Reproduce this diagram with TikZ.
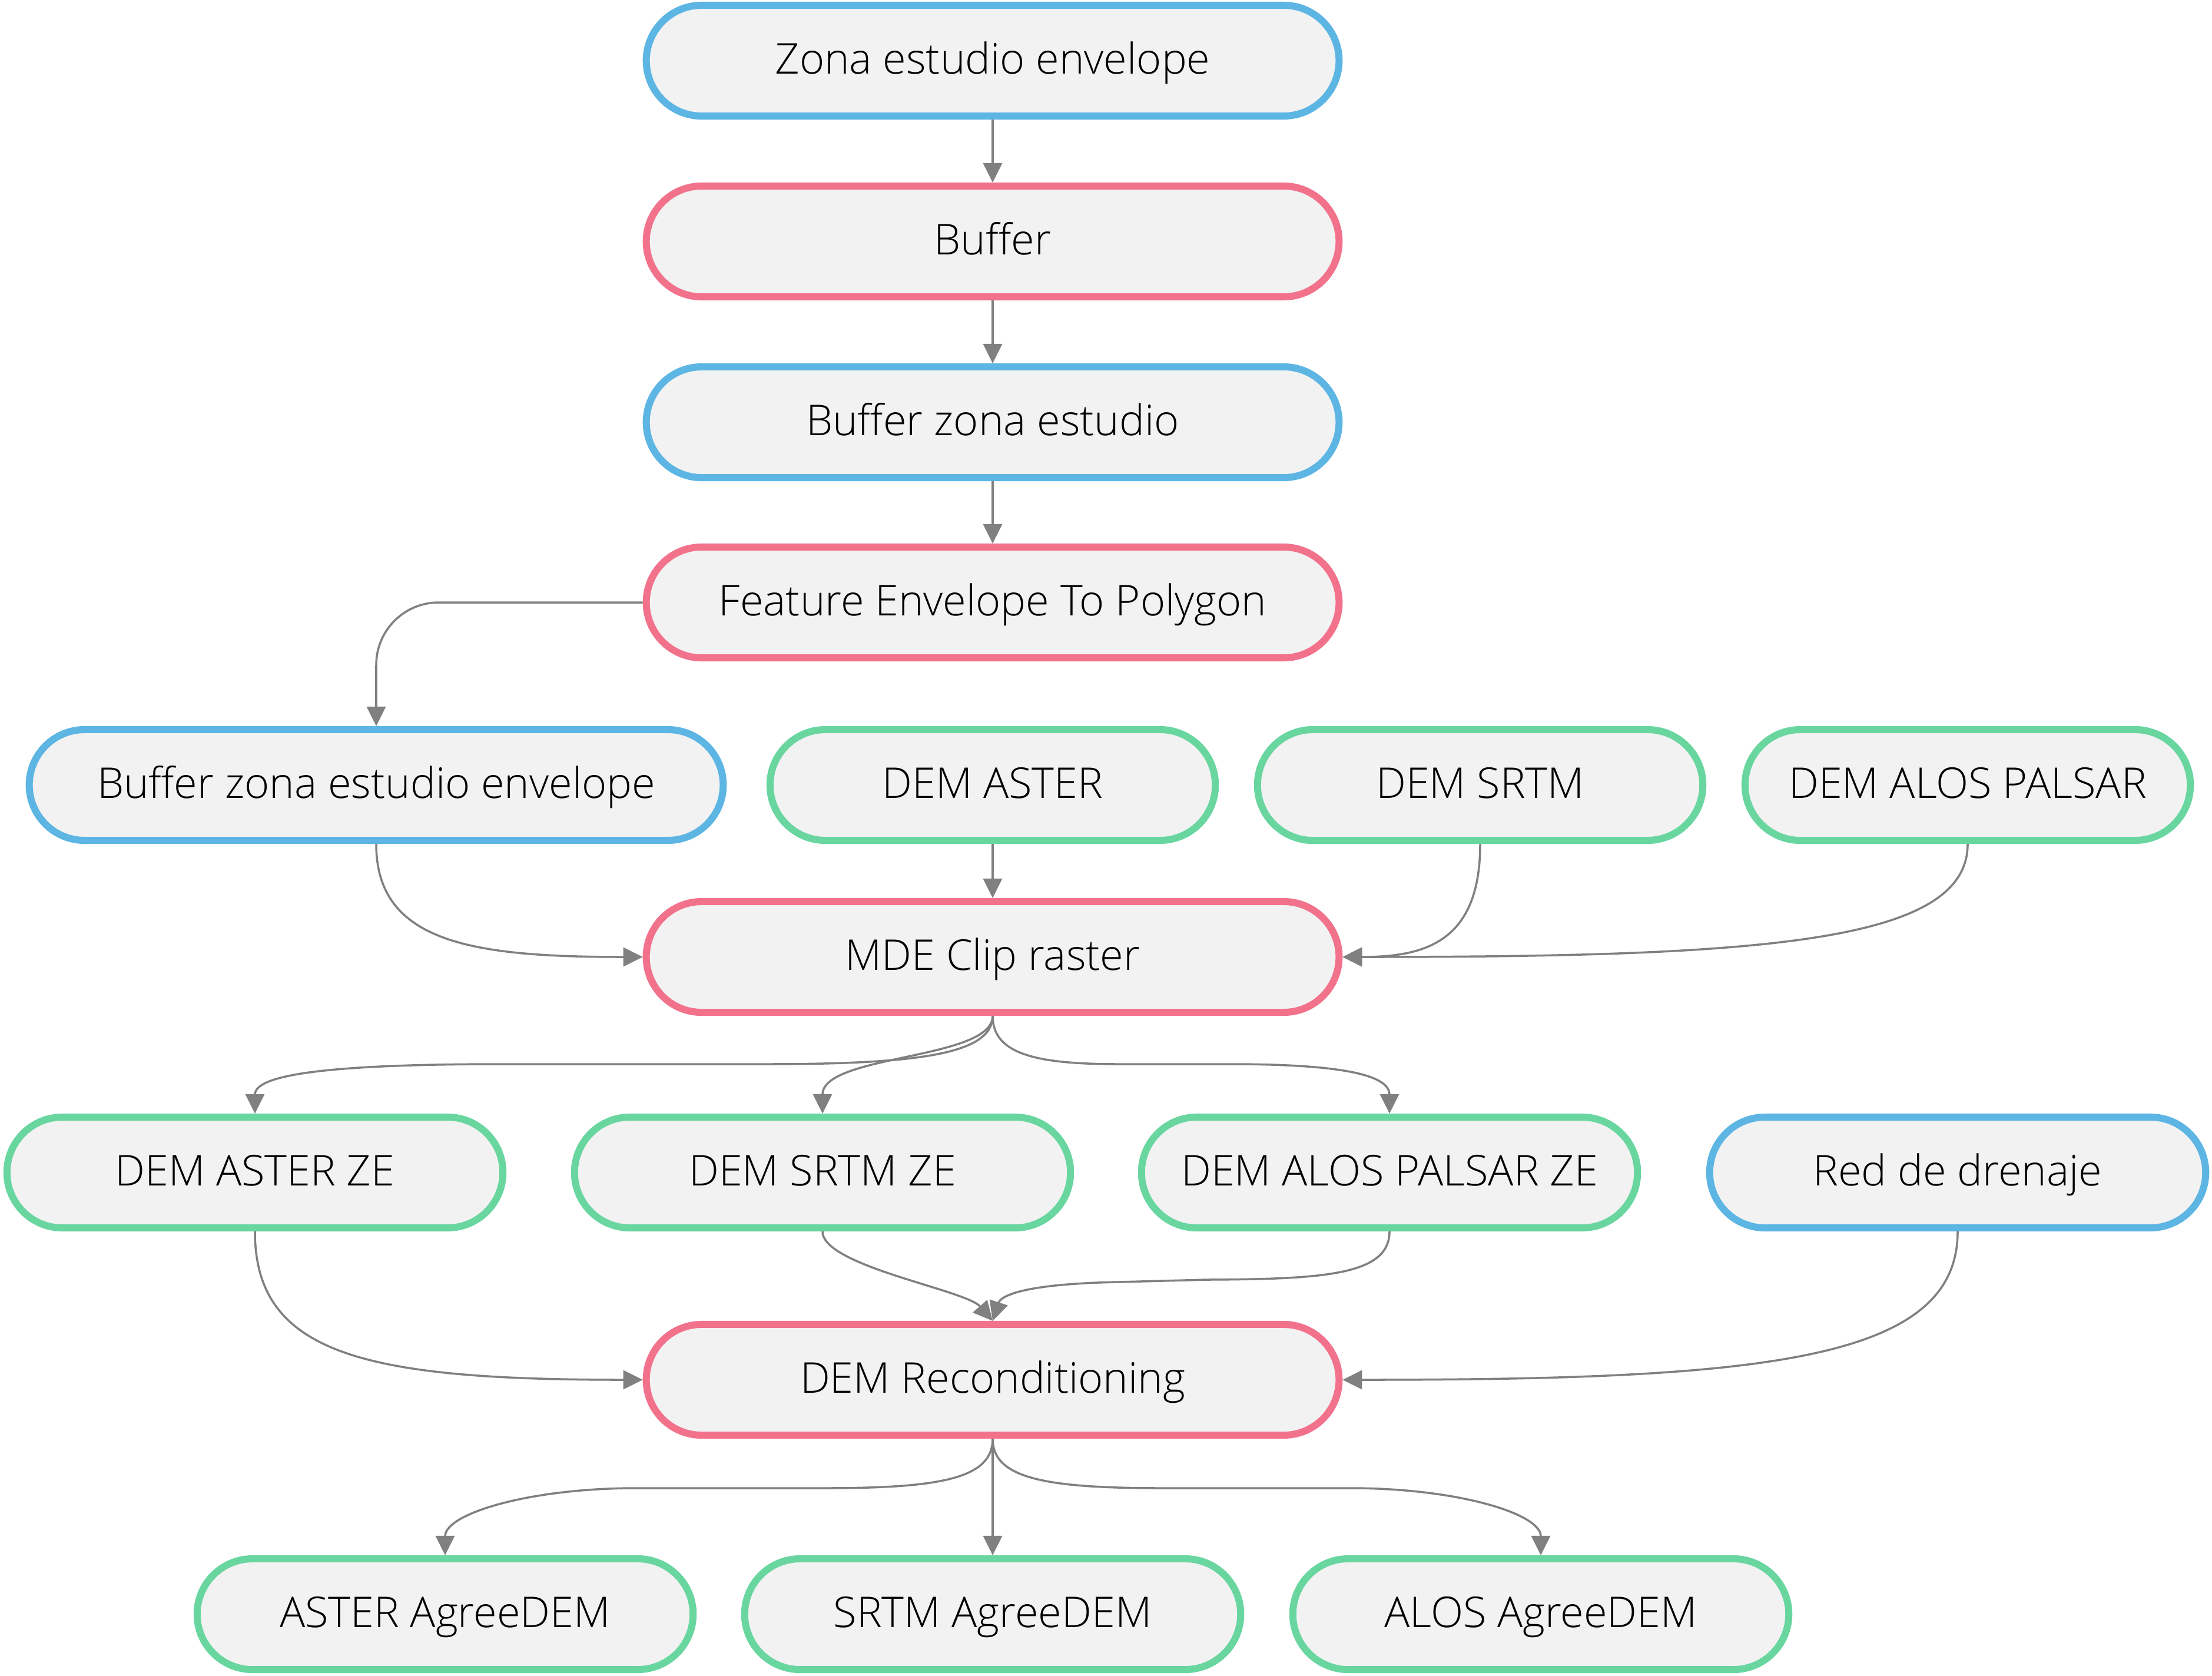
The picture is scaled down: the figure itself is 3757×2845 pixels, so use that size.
\documentclass[tikz,border=0pt]{standalone}
\usepackage{fontspec}
\setmainfont{Open Sans Light}
\usetikzlibrary{arrows.meta}
\definecolor{cblue}{HTML}{5DB5E3}
\definecolor{cpink}{HTML}{F2728C}
\definecolor{cgreen}{HTML}{69D6A0}
\definecolor{cfill}{HTML}{F2F2F2}
\definecolor{cline}{HTML}{808080}
\begin{document}
\begin{tikzpicture}[x=0.01cm,y=-0.01cm,
  pill/.style={draw=#1, line width=0.12cm, fill=cfill, rounded corners=0.94cm,
    minimum height=1.88cm, inner sep=0pt, text height=0.455cm, text depth=0pt,
    font=\fontsize{20.5}{24}\selectfont, text=black},
  wbig/.style={minimum width=11.76cm},
  wmid/.style={minimum width=7.56cm},
  wze/.style={minimum width=8.42cm},
  conn/.style={draw=cline, line width=1pt, -{Triangle[length=0.33cm,width=0.32cm]}},
]
\useasboundingbox (0,0) rectangle (3757,2845);

\node[pill=cblue, wbig] (zona) at (1686,103) {Zona estudio envelope};
\node[pill=cpink, wbig] (buf) at (1686,410) {Buffer};
\node[pill=cblue, wbig] (bze) at (1686,717) {Buffer zona estudio};
\node[pill=cpink, wbig] (feat) at (1686,1023) {Feature Envelope To Polygon};

\node[pill=cblue, minimum width=11.78cm] (bzee) at (639,1333) {Buffer zona estudio envelope};
\node[pill=cgreen, wmid] (aster) at (1686,1333) {DEM ASTER};
\node[pill=cgreen, wmid] (srtm) at (2514,1333) {DEM SRTM};
\node[pill=cgreen, wmid] (alos) at (3342,1333) {DEM ALOS PALSAR};

\node[pill=cpink, wbig] (mde) at (1686,1625) {MDE Clip raster};

\node[pill=cgreen, wze] (asterze) at (433,1991) {DEM ASTER ZE};
\node[pill=cgreen, wze] (srtmze) at (1397,1991) {DEM SRTM ZE};
\node[pill=cgreen, wze] (alosze) at (2360,1991) {DEM ALOS PALSAR ZE};
\node[pill=cblue, wze] (red) at (3325,1991) {Red de drenaje};

\node[pill=cpink, wbig] (recon) at (1686,2343) {DEM Reconditioning};

\node[pill=cgreen, wze] (agaster) at (756,2741) {ASTER AgreeDEM};
\node[pill=cgreen, wze] (agsrtm) at (1686,2741) {SRTM AgreeDEM};
\node[pill=cgreen, wze] (agalos) at (2617,2741) {ALOS AgreeDEM};

% top chain
\draw[conn] (zona.south) -- (buf.north);
\draw[conn] (buf.south) -- (bze.north);
\draw[conn] (bze.south) -- (feat.north);
\draw[conn, rounded corners=1.06cm] (feat.west) -| (bzee.north);

% into MDE Clip raster
\draw[conn] (bzee.south) .. controls (639,1600) and (800,1625) .. (mde.west);
\draw[conn] (aster.south) -- (mde.north);
\draw[conn] (srtm.south) .. controls (2514,1600) and (2420,1625) .. (mde.east);
\draw[conn] (alos.south) .. controls (3342,1600) and (3000,1625) .. (mde.east);

% out of MDE Clip raster
\draw[conn] (mde.south) .. controls (1686,1790) and (1560,1807) .. (1300,1807)
  -- (850,1807) .. controls (520,1807) and (433,1830) .. (asterze.north);
\draw[conn] (mde.south) .. controls (1686,1800) and (1397,1790) .. (srtmze.north);
\draw[conn] (mde.south) .. controls (1686,1790) and (1760,1807) .. (1900,1807)
  -- (2090,1807) .. controls (2300,1807) and (2360,1830) .. (alosze.north);

% into DEM Reconditioning
\draw[conn] (asterze.south) .. controls (433,2300) and (620,2343) .. (recon.west);
\draw[conn] (srtmze.south) .. controls (1397,2150) and (1640,2190) .. (recon.north);
\draw[conn] (alosze.south) .. controls (2360,2165) and (2250,2172) .. (2050,2173)
  -- (1900,2177) .. controls (1740,2180) and (1700,2200) .. (recon.north);
\draw[conn] (red.south) .. controls (3325,2310) and (3000,2343) .. (recon.east);

% out of DEM Reconditioning
\draw[conn] (recon.south) .. controls (1686,2510) and (1600,2527) .. (1400,2527)
  -- (1080,2527) .. controls (900,2527) and (756,2570) .. (agaster.north);
\draw[conn] (recon.south) -- (agsrtm.north);
\draw[conn] (recon.south) .. controls (1686,2510) and (1774,2527) .. (1974,2527)
  -- (2294,2527) .. controls (2474,2527) and (2617,2570) .. (agalos.north);
\end{tikzpicture}
\end{document}
